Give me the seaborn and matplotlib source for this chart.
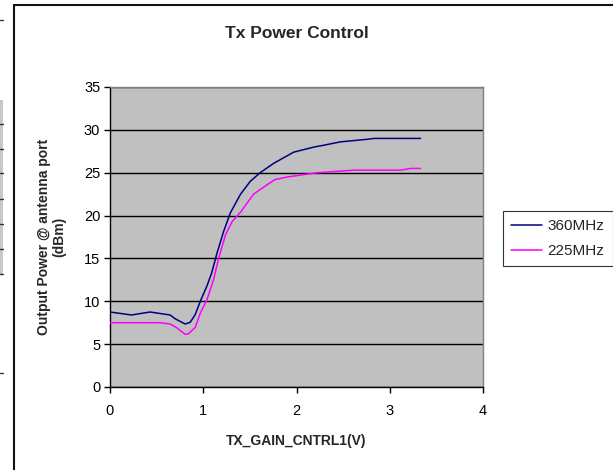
import matplotlib
matplotlib.use("Agg")
import matplotlib.pyplot as plt
from matplotlib.lines import Line2D
from matplotlib.patches import Rectangle
import seaborn as sns
import pandas as pd

# ---- data ----
x_360 = [0.0, 0.23, 0.43, 0.645, 0.70, 0.806, 0.86, 0.914, 0.968, 1.04, 1.09, 1.147,
         1.22, 1.29, 1.40, 1.505, 1.61, 1.756, 1.97, 2.19, 2.29, 2.47, 2.76, 2.83, 3.33]
y_360 = [8.75, 8.4, 8.75, 8.4, 7.95, 7.35, 7.55, 8.45, 10.0, 11.8, 13.3, 15.6,
         18.2, 20.3, 22.5, 24.0, 25.0, 26.1, 27.4, 28.0, 28.2, 28.6, 28.9, 29.0, 29.0]
x_225 = [0.0, 0.54, 0.645, 0.717, 0.806, 0.84, 0.914, 0.968, 1.04, 1.11, 1.165, 1.24,
         1.31, 1.40, 1.54, 1.685, 1.77, 1.90, 2.22, 2.62, 3.12, 3.22, 3.33]
y_225 = [7.5, 7.5, 7.35, 6.9, 6.15, 6.2, 6.95, 8.6, 10.2, 12.5, 15.0, 17.8,
         19.3, 20.4, 22.5, 23.6, 24.2, 24.5, 25.0, 25.3, 25.3, 25.5, 25.5]
series_names = ["360MHz", "225MHz"]
series_colors = ["#000080", "#FF00FF"]
x_ticks = [0, 1, 2, 3, 4]
y_ticks = [0, 5, 10, 15, 20, 25, 30, 35]
title = "Tx Power Control"
xlabel = "TX_GAIN_CNTRL1(V)"
ylabel = "Output Power @ antenna port\n(dBm)"

df = pd.concat([
    pd.DataFrame({"x": x_360, "y": y_360, "series": series_names[0]}),
    pd.DataFrame({"x": x_225, "y": y_225, "series": series_names[1]}),
], ignore_index=True)

sns.set_theme(style="white")
plt.rcParams["font.family"] = ["Liberation Sans", "DejaVu Sans"]

W, H = 613, 470
fig = plt.figure(figsize=(W / 100, H / 100), dpi=100)
ax = fig.add_axes([110 / W, 1 - 387 / H, (483 - 110) / W, (387 - 87) / H])
ax.set_facecolor("#C0C0C0")

sns.lineplot(data=df, x="x", y="y", hue="series", palette=dict(zip(series_names, series_colors)),
             sort=False, linewidth=1.1, ax=ax, legend=False, zorder=3)

ax.set_xlim(0, 4)
ax.set_ylim(0, 35)
ax.set_xticks(x_ticks)
ax.set_yticks(y_ticks)
ax.tick_params(axis="both", which="major", direction="out", length=4, width=1,
               colors="black", labelsize=10.5, left=True, bottom=True)
ax.tick_params(axis="y", pad=3)
ax.tick_params(axis="x", pad=8)
ax.yaxis.grid(True, color="black", linewidth=1, zorder=1)
ax.xaxis.grid(False)
ax.set_axisbelow(True)
for side in ["top", "right"]:
    ax.spines[side].set_color("#808080")
    ax.spines[side].set_linewidth(1)
for side in ["left", "bottom"]:
    ax.spines[side].set_color("black")
    ax.spines[side].set_linewidth(1)

ax.set_xlabel(xlabel, fontsize=10, fontweight="bold", labelpad=12)
ax.set_ylabel(ylabel, fontsize=10, fontweight="bold", labelpad=13, linespacing=1.1)
ax.set_title(title, fontsize=12.5, fontweight="bold", pad=35)

handles = [Line2D([0], [0], color=c, lw=1.1) for c in series_colors]
leg = fig.legend(handles, series_names, loc="upper left",
                 bbox_to_anchor=(503 / W, 1 - 211 / H), frameon=True, fontsize=11,
                 handlelength=2.0, handletextpad=0.35, borderpad=0.55, labelspacing=0.7,
                 borderaxespad=0, fancybox=False)
leg.get_frame().set_edgecolor("black")
leg.get_frame().set_linewidth(0.8)

# chart-area border (left and top edges visible in the reference)
fig.add_artist(Line2D([13.8 / W, 13.8 / W], [0, 1 - 5 / H], transform=fig.transFigure,
                      color="#111111", lw=1.5))
fig.add_artist(Line2D([13.8 / W, 1], [1 - 5 / H, 1 - 5 / H], transform=fig.transFigure,
                      color="#111111", lw=1.5))
# fragment of neighbouring table at left edge
fig.add_artist(Rectangle((0, 1 - 275 / H), 3 / W, (275 - 100) / H, transform=fig.transFigure,
                         facecolor="#C8C8C8", edgecolor="none"))
for yy in [20, 124, 149, 173, 199, 224, 249, 274, 373]:
    fig.add_artist(Line2D([0, 3 / W], [1 - yy / H, 1 - yy / H], transform=fig.transFigure,
                          color="#333333", lw=1))

fig.savefig("out.png", dpi=100)
